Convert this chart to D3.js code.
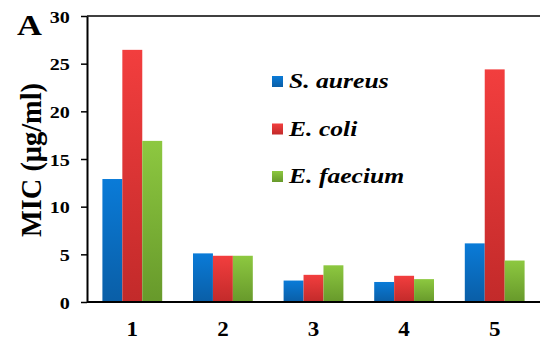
<!DOCTYPE html>
<html><head><meta charset="utf-8">
<script src="https://cdn.jsdelivr.net/npm/d3@7"></script>
<style>body{margin:0;background:#fff}svg{display:block}</style>
</head><body>
<script>
const categories = ["1","2","3","4","5"];
const seriesNames = ["S. aureus","E. coli","E. faecium"];
const sAureus = [12.9, 5.1, 2.25, 2.1, 6.15];
const eColi = [26.45, 4.85, 2.85, 2.75, 24.4];
const eFaecium = [16.9, 4.85, 3.85, 2.4, 4.35];
const yTicks = [0,5,10,15,20,25,30];
const colorsTop = ["#0a7bd8","#f23e3e","#8dc840"];
const colorsBottom = ["#0a5ea6","#c22a2a","#67992b"];

const W=543,H=340;
const svg=d3.select("body").append("svg").attr("width",W).attr("height",H);
const x0=87,x1=540,yTop=16,yBot=302;
const x=d3.scaleBand().domain(categories).range([x0,x1]).paddingInner(0.34).paddingOuter(0.17);
const xs=d3.scaleBand().domain(seriesNames).range([0,x.bandwidth()]);
const y=d3.scaleLinear().domain([0,30]).range([yBot,yTop]);
const data=[sAureus,eColi,eFaecium];
const serif='"Liberation Serif","Times New Roman",serif';

const defs=svg.append("defs");
seriesNames.forEach((s,i)=>{
  const g=defs.append("linearGradient").attr("id","g"+i).attr("x1",0).attr("y1",0).attr("x2",0).attr("y2",1);
  g.append("stop").attr("offset","0%").attr("stop-color",colorsTop[i]);
  g.append("stop").attr("offset","100%").attr("stop-color",colorsBottom[i]);
});

seriesNames.forEach((s,i)=>{
  svg.append("g").selectAll("rect").data(categories).join("rect")
    .attr("x",c=>x(c)+xs(s))
    .attr("width",xs.bandwidth())
    .attr("y",(c,j)=>y(data[i][j]))
    .attr("height",(c,j)=>yBot-y(data[i][j]))
    .attr("fill","url(#g"+i+")");
});

svg.append("line").attr("x1",x0).attr("x2",x1).attr("y1",yTop).attr("y2",yTop).attr("stroke","#000").attr("stroke-width",1.5);

const ya=svg.append("g").attr("transform",`translate(${x0},0)`)
  .call(d3.axisLeft(y).tickValues(yTicks).tickSize(6).tickSizeOuter(0).tickPadding(9));
ya.select(".domain").attr("stroke-width",2);
ya.selectAll(".tick line").attr("stroke-width",1.5);
ya.selectAll("text").style("font-family",serif).attr("font-weight","bold").attr("font-size",17.5).attr("fill","#000")
  .attr("transform","scale(1.15,1)").attr("dy","0.36em");

const xa=svg.append("g").attr("transform",`translate(0,${yBot})`)
  .call(d3.axisBottom(x).tickSize(0).tickPadding(20));
xa.select(".domain").attr("stroke-width",2).attr("d",`M${x0},0H${x1}`);
xa.selectAll("text").style("font-family",serif).attr("font-weight","bold").attr("font-size",20).attr("fill","#000")
  .attr("transform","scale(1.15,1)");

svg.append("text").attr("transform","translate(41,160) rotate(-90)")
  .attr("text-anchor","middle").style("font-family",serif).attr("font-weight","bold").attr("font-size",28.4)
  .text("MIC (μg/ml)");

svg.append("text").attr("transform","translate(17,35) scale(1.15,1)").style("font-family",serif).attr("font-weight","bold").attr("font-size",30).text("A");

const lg=svg.append("g");
seriesNames.forEach((s,i)=>{
  const yy=76+i*47.5;
  lg.append("rect").attr("x",272).attr("y",yy).attr("width",11).attr("height",11).attr("fill","url(#g"+i+")");
  lg.append("text").attr("transform",`translate(289,${yy+12}) scale(1.22,1)`).style("font-family",serif).attr("font-weight","bold").attr("font-style","italic").attr("font-size",21).text(s);
});
</script>
</body></html>
